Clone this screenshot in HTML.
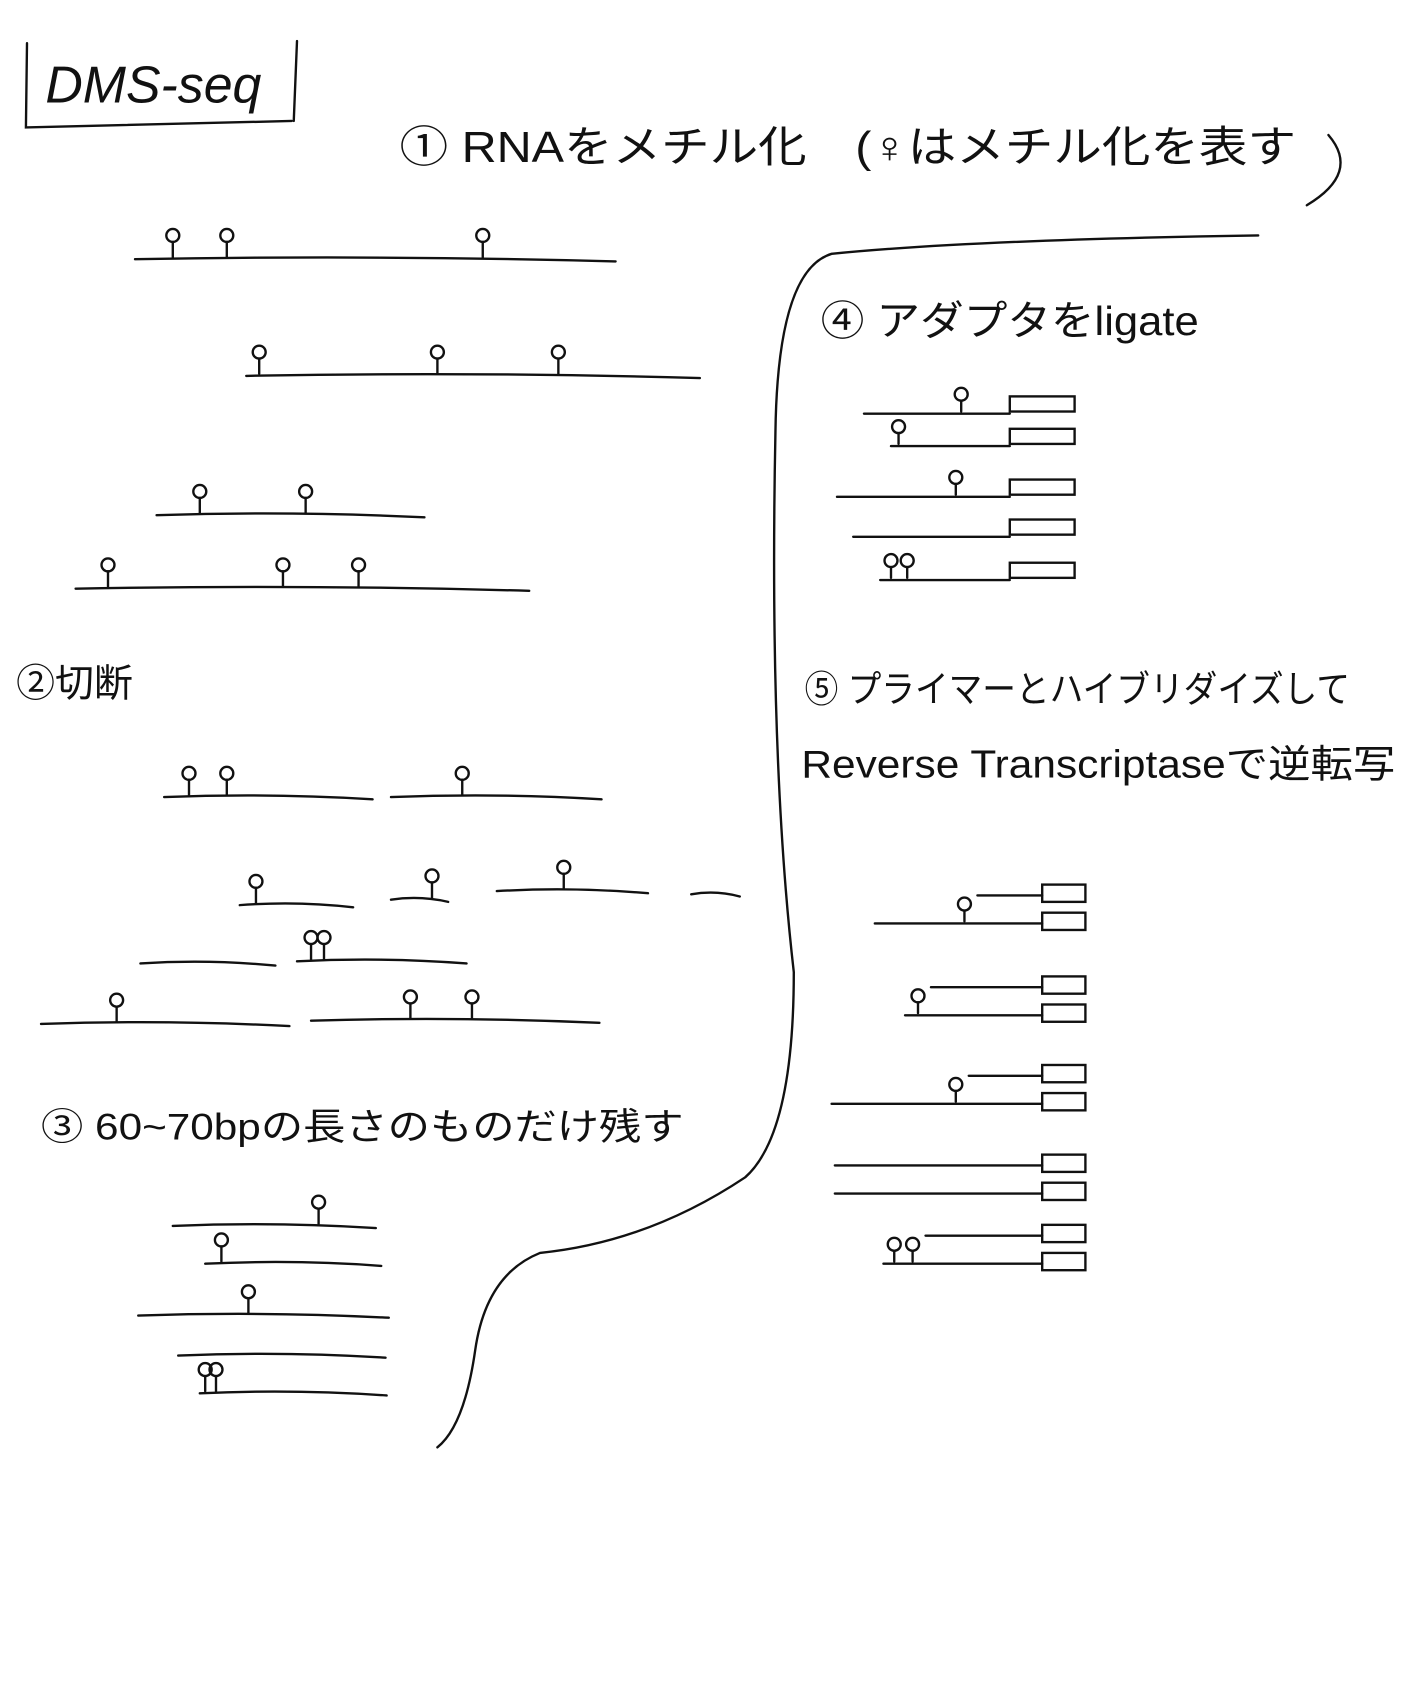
<!DOCTYPE html>
<html><head><meta charset="utf-8">
<style>
html,body{margin:0;padding:0;background:#fff;}
svg{display:block;}
text{font-family:"Liberation Sans","Noto Sans CJK JP",sans-serif;fill:#111;}
</style></head>
<body>
<svg id="s" width="1404" height="1699" viewBox="0 0 1300 1573" preserveAspectRatio="none" xmlns="http://www.w3.org/2000/svg" stroke="#111" stroke-width="2.2" fill="none" stroke-linecap="round">
  <g>
    <path d="M25 40 L24 118 L270 112 M275 38 L272 112"/>
    <text x="42" y="95" font-size="48" stroke="none" style="font-style:italic">DMS-seq</text>
  </g>
  <text x="370" y="150" font-size="40" stroke="none" textLength="830" lengthAdjust="spacingAndGlyphs">① RNAをメチル化　(♀はメチル化を表す</text>
  <path d="M1230 125 Q1260 160 1210 190"/>
  <text x="15" y="645" font-size="36" stroke="none">②切断</text>
  <text x="38" y="1055" font-size="34" stroke="none" textLength="595" lengthAdjust="spacingAndGlyphs">③ 60~70bpの長さのものだけ残す</text>
  <text x="760" y="310" font-size="38" stroke="none" textLength="350" lengthAdjust="spacingAndGlyphs">④ アダプタをligate</text>
  <text x="745" y="650" font-size="34" stroke="none" textLength="505" lengthAdjust="spacingAndGlyphs">⑤ プライマーとハイブリダイズして</text>
  <text x="742" y="720" font-size="36" stroke="none" textLength="550" lengthAdjust="spacingAndGlyphs">Reverse Transcriptaseで逆転写</text>
  <path d="M1165 218 Q900 222 770 235 Q720 250 718 400 Q712 700 735 900 Q735 1050 690 1090 Q600 1150 500 1160 Q450 1180 440 1250 Q430 1320 405 1340"/>
  <g id="g"></g>
</svg>
<script>
// strands: [x1, x2, y, pins...]
const strands = [
 [125,570,240,[160,210,447]],[228,648,348,[240,405,517]],[145,393,477,[185,283]],[70,490,545,[100,262,332]],
 [152,345,738,[175,210]],[362,557,738,[428]],
 [222,327,838,[237]],[362,415,833,[400]],[460,600,825,[522]],[640,685,828,[]],
 [130,255,892,[]],[275,432,890,[288,300]],
 [38,268,948,[108]],[288,555,945,[380,437]],
 [160,348,1135,[295]],[190,353,1170,[205]],[128,360,1218,[230]],[165,357,1255,[]],[185,358,1290,[190,200]]
];
// ligated: [x1, y, pins...]
const ligated = [[800,383,[890]],[825,413,[832]],[775,460,[885]],[790,497,[]],[815,537,[825,840]]];
// RT rows: [x1, y, pins...]
const rtRows = [[810,855,[893]],[838,940,[850]],[770,1022,[885]],[773,1105,[]],[818,1170,[828,845]]];
const g=document.getElementById('g');
const NS='http://www.w3.org/2000/svg';
function mk(tag,attrs){const e=document.createElementNS(NS,tag);for(const k in attrs)e.setAttribute(k,attrs[k]);g.appendChild(e);return e;}
function pin(x,y,h){
  const p=mk('path',{d:`M${x} ${y} L${x} ${y-h}`});
  
  
  const c=mk('circle',{cx:x,cy:y-h-6,r:6});
  
  
}
strands.forEach(s=>{
  const l=mk('path',{d:`M${s[0]} ${s[2]} Q${(s[0]+s[1])/2} ${s[2]-4} ${s[1]} ${s[2]+2}`});
  
  
  s[3].forEach(x=>pin(x,s[2]-2,14));
});
ligated.forEach(r=>{
  const l=mk('path',{d:`M${r[0]} ${r[1]} L935 ${r[1]}`});
  
  
  const b=mk('rect',{x:935,y:r[1]-16,width:60,height:14});
  
  
  r[2].forEach(x=>pin(x,r[1]-2,10));
});
rtRows.forEach(r=>{
  const l=mk('path',{d:`M${r[0]} ${r[1]} L965 ${r[1]}`});
  
  
  const px=(r[2].length?Math.max(...r[2])+12:r[0]);
  const p=mk('path',{d:`M${px} ${r[1]-26} L965 ${r[1]-26}`});
  
  
  const b1=mk('rect',{x:965,y:r[1]-36,width:40,height:16});
  
  
  const b2=mk('rect',{x:965,y:r[1]-10,width:40,height:16});
  
  
  r[2].forEach(x=>pin(x,r[1]-2,10));
});
</script>
</body></html>
